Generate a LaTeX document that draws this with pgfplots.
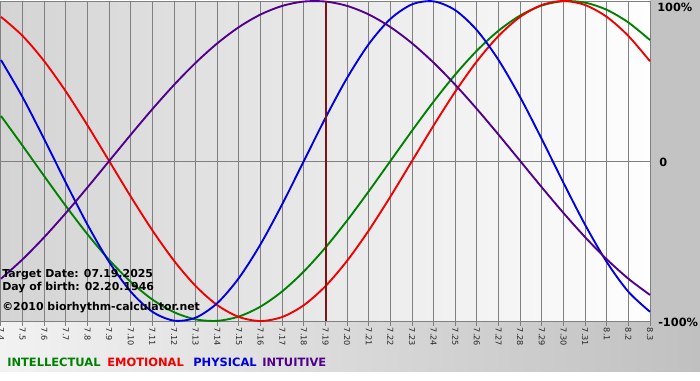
\documentclass[border=0pt]{standalone}
\usepackage{fontspec}
\setmainfont{DejaVu Sans}
\usepackage{pgfplots}
\pgfplotsset{compat=1.18}
\usepackage{pgfplotstable}
\definecolor{cint}{RGB}{0,128,0}
\definecolor{cemo}{RGB}{240,0,0}
\definecolor{cphy}{RGB}{0,0,225}
\definecolor{cintu}{RGB}{80,0,140}
\definecolor{ctarget}{RGB}{125,20,20}
\definecolor{cgrid}{RGB}{128,128,128}
\definecolor{bandL}{RGB}{242,242,242}
\definecolor{bandR}{RGB}{192,192,192}
\definecolor{rstrip}{RGB}{195,195,195}
\definecolor{plotL}{RGB}{212,212,212}
\definecolor{plotR}{RGB}{254,254,254}
\pgfplotstableread{
x  int     emo     phy     intu
0  28.17   90.10   63.11  -73.57
1  9.51    78.18   39.84  -61.42
2  -9.51   62.35   13.62  -47.59
3  -28.17  43.39  -13.62  -32.47
4  -45.82  22.25  -39.84  -16.46
5  -61.82  0      -63.11   0
6  -75.57  -22.25 -81.70   16.46
7  -86.60  -43.39 -94.23   32.47
8  -94.50  -62.35 -99.77   47.59
9  -98.98  -78.18 -97.91   61.42
10 -99.89  -90.10 -88.79   73.57
11 -97.18  -97.49 -73.08   83.72
12 -90.96  -100   -51.96   91.58
13 -81.46  -97.49 -26.98   96.94
14 -69.01  -90.10  0       99.66
15 -54.06  -78.18  26.98   99.66
16 -37.17  -62.35  51.96   96.94
17 -18.93  -43.39  73.08   91.58
18 0       -22.25  88.79   83.72
19 18.93   0       97.91   73.57
20 37.17   22.25   99.77   61.42
21 54.06   43.39   94.23   47.59
22 69.01   62.35   81.70   32.47
23 81.46   78.18   63.11   16.46
24 90.96   90.10   39.84   0
25 97.18   97.49   13.62  -16.46
26 99.89   100    -13.62  -32.47
27 98.98   97.49  -39.84  -47.59
28 94.50   90.10  -63.11  -61.42
29 86.60   78.18  -81.70  -73.57
30 75.57   62.35  -94.23  -83.72
}\bio
\begin{document}
\begin{tikzpicture}
\useasboundingbox (0,0) rectangle (525pt,285pt);
\fill[white] (0,0) rectangle (525pt,285pt);
\shade[left color=bandL, right color=bandR] (0,6.75pt) rectangle (525pt,44.25pt);
\fill[rstrip] (487.5pt,44.25pt) rectangle (525pt,285pt);
\shade[left color=plotL, right color=plotR] (0.75pt,44.25pt) rectangle (487.5pt,284.25pt);
\begin{axis}[
  at={(0.75pt,44.25pt)}, anchor=south west,
  scale only axis, width=486.75pt, height=240pt,
  xmin=0, xmax=30, ymin=-100, ymax=100,
  clip=false,
  axis line style={cgrid, line width=0.75pt},
  xtick={0,...,30},
  xticklabels={7.4,7.5,7.6,7.7,7.8,7.9,7.10,7.11,7.12,7.13,7.14,7.15,7.16,7.17,7.18,7.19,7.20,7.21,7.22,7.23,7.24,7.25,7.26,7.27,7.28,7.29,7.30,7.31,8.1,8.2,8.3},
  xtick pos=bottom, tick align=outside, major tick length=3.4pt,
  xtick style={cgrid, line width=0.75pt},
  xticklabel shift=1.6pt,
  xticklabel style={rotate=-90, anchor=west, font=\fontsize{6.1}{6.5}\selectfont, text=black!85, inner sep=0pt},
  ytick={0}, yticklabels={}, ytick style={draw=none},
  xmajorgrids, ymajorgrids,
  grid style={cgrid, line width=0.75pt},
]
\addplot[cint, line width=1.4pt, smooth] table[x=x, y=int] {\bio};
\addplot[cemo, line width=1.4pt, smooth] table[x=x, y=emo] {\bio};
\addplot[cphy, line width=1.4pt, smooth] table[x=x, y=phy] {\bio};
\addplot[cintu, line width=1.4pt, smooth] table[x=x, y=intu] {\bio};
\addplot[ctarget, line width=1.5pt] coordinates {(15,-100) (15,100)};
\end{axis}
\begin{scope}[every node/.style={inner sep=0pt, anchor=base west}]
\node[font=\bfseries\fontsize{8.2}{9}\selectfont] at (1.5pt,77.25pt) {Target Date: 07.19.2025};
\node[font=\bfseries\fontsize{8.2}{9}\selectfont] at (1.5pt,67.5pt) {Day of birth: 02.20.1946};
\node[font=\bfseries\fontsize{8.2}{9}\selectfont] at (1.5pt,52.5pt) {©2010 biorhythm-calculator.net};
\node[font=\bfseries\fontsize{8.5}{9}\selectfont] at (492.75pt,276.75pt) {100\%};
\node[font=\bfseries\fontsize{8.5}{9}\selectfont] at (494.25pt,160.5pt) {0};
\node[font=\bfseries\fontsize{8.5}{9}\selectfont] at (493.5pt,40.5pt) {-100\%};
\node[font=\bfseries\fontsize{8.6}{9}\selectfont, text=cint] at (5.25pt,10.5pt) {INTELLECTUAL};
\node[font=\bfseries\fontsize{8.6}{9}\selectfont, text=cemo] at (80.25pt,10.5pt) {EMOTIONAL};
\node[font=\bfseries\fontsize{8.6}{9}\selectfont, text=cphy] at (144.75pt,10.5pt) {PHYSICAL};
\node[font=\bfseries\fontsize{8.6}{9}\selectfont, text=cintu] at (196.5pt,10.5pt) {INTUITIVE};
\end{scope}
\end{tikzpicture}
\end{document}
